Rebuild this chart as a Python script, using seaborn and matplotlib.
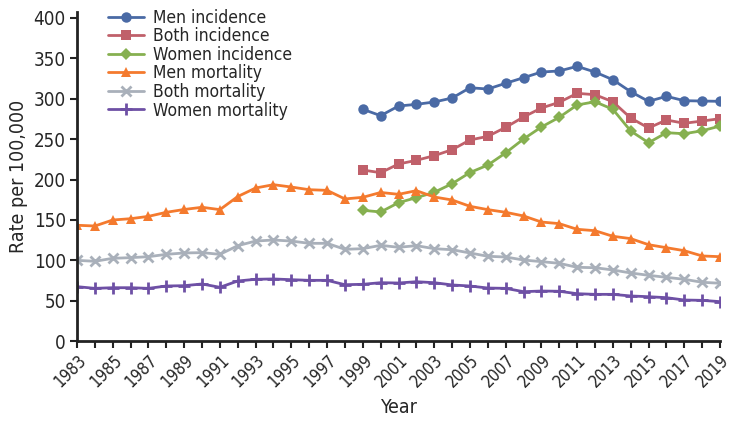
import matplotlib
matplotlib.use("Agg")
import matplotlib.pyplot as plt
from matplotlib import font_manager
import numpy as np
import pandas as pd
import seaborn as sns

years = list(range(1983, 2020))
nan = np.nan
pre = [nan] * 16  # 1983-1998 no incidence data

men_incidence = pre + [286.7, 278.8, 290.7, 292.8, 295.7, 300.6, 313.3, 311.7, 318.8, 325.7,
                       332.7, 334.0, 339.7, 332.7, 323.2, 308.4, 296.5, 302.7, 297.3, 296.9, 296.5]
both_incidence = pre + [211.7, 208.4, 219.1, 223.7, 229.4, 236.8, 248.8, 253.3, 264.4, 277.2,
                        288.3, 295.3, 306.4, 304.7, 296.0, 275.9, 263.6, 273.5, 269.4, 272.2, 275.1]
women_incidence = pre + [162.0, 159.9, 171.4, 177.6, 184.2, 194.8, 208.6, 217.8, 232.9, 250.0,
                         264.8, 276.8, 292.0, 296.0, 286.7, 259.9, 245.4, 257.8, 256.5, 260.2, 266.0]
men_mortality = [143.5, 142.6, 150.0, 151.6, 154.5, 159.5, 163.0, 165.7, 162.8, 179.0,
                 189.5, 193.6, 190.7, 187.4, 186.6, 176.0, 178.0, 184.0, 181.7, 186.2,
                 178.4, 174.7, 166.9, 162.8, 159.5, 155.0, 147.5, 145.5, 138.5, 136.8,
                 129.9, 127.0, 119.5, 115.8, 112.1, 105.6, 104.7]
both_mortality = [100.2, 99.0, 102.7, 103.5, 104.7, 107.6, 109.3, 109.7, 107.6, 118.3,
                  124.0, 125.3, 124.0, 121.2, 121.2, 113.8, 114.6, 118.7, 116.3, 118.3,
                  114.6, 113.3, 109.3, 105.2, 104.3, 100.6, 98.6, 96.5, 91.6, 91.1,
                  88.3, 84.6, 81.7, 79.2, 76.8, 73.1, 71.9]
women_mortality = [67.7, 65.6, 66.4, 66.4, 65.6, 68.5, 68.9, 71.0, 66.9, 74.7,
                   76.8, 77.2, 76.3, 75.5, 75.5, 70.1, 70.6, 72.6, 72.2, 73.8,
                   72.6, 69.8, 68.5, 66.0, 65.6, 61.5, 62.3, 62.0, 59.0, 58.2,
                   58.2, 56.2, 55.3, 54.1, 51.2, 50.8, 49.2]

series_names = ["Men incidence", "Both incidence", "Women incidence",
                "Men mortality", "Both mortality", "Women mortality"]
series_values = [men_incidence, both_incidence, women_incidence,
                 men_mortality, both_mortality, women_mortality]
x_tick_labels = [str(y) for y in range(1983, 2020, 2)]
y_ticks = list(range(0, 401, 50))

colors = ["#4A6AA5", "#C0606A", "#86B050", "#F47A2E", "#A9B0BA", "#6E50A5"]
markers = ["o", "s", "D", "^", "x", "+"]
msizes = [7.5, 6.5, 6, 7.5, 7, 9]

sns.set_theme(style="ticks")
avail = {f.name for f in font_manager.fontManager.ttflist}
if "Liberation Sans Narrow" in avail:
    fam = ["Liberation Sans Narrow", "DejaVu Sans"]
    stretch = "normal"
else:
    fam = ["DejaVu Sans"]
    stretch = "condensed"
plt.rcParams["font.family"] = fam
plt.rcParams["font.stretch"] = stretch

fig = plt.figure(figsize=(7.35, 4.23), dpi=100)
ax = fig.add_axes([0.1048, 0.1927, 0.8748, 0.7793])

for name, vals, c, m, ms in zip(series_names, series_values, colors, markers, msizes):
    df = pd.DataFrame({"Year": years, "Rate": vals}).dropna()
    mew = 2 if m in ("x", "+") else 0
    sns.lineplot(data=df, x="Year", y="Rate", ax=ax, color=c, marker=m,
                 markersize=ms, markeredgewidth=mew, markeredgecolor=c,
                 linewidth=2.0, label=name)

ax.set_xlim(1983, 2019)
ax.set_ylim(0, 407)
ax.set_xticks(years, minor=False)
ax.set_xticklabels([y if (int(y) - 1983) % 2 == 0 else "" for y in map(str, years)],
                   rotation=45, ha="right", rotation_mode="anchor", fontsize=12)
ax.set_yticks(y_ticks)
ax.set_yticklabels([str(v) for v in y_ticks], fontsize=13.5)
ax.tick_params(axis="both", direction="out", length=5, width=1.5, color="#222222",
               pad=3)
ax.tick_params(axis="x", pad=2)
for s in ["top", "right"]:
    ax.spines[s].set_visible(False)
for s in ["left", "bottom"]:
    ax.spines[s].set_linewidth(2)
    ax.spines[s].set_color("#222222")
ax.set_xlabel("Year", fontsize=14, labelpad=5)
ax.set_ylabel("Rate per 100,000", fontsize=14, labelpad=4)

leg = ax.legend(loc="upper left", bbox_to_anchor=(0.037, 1.03), frameon=False,
                fontsize=12.5, handlelength=2.1, handletextpad=0.5,
                labelspacing=0.03, borderaxespad=0)

fig.savefig("out.png", dpi=100)
